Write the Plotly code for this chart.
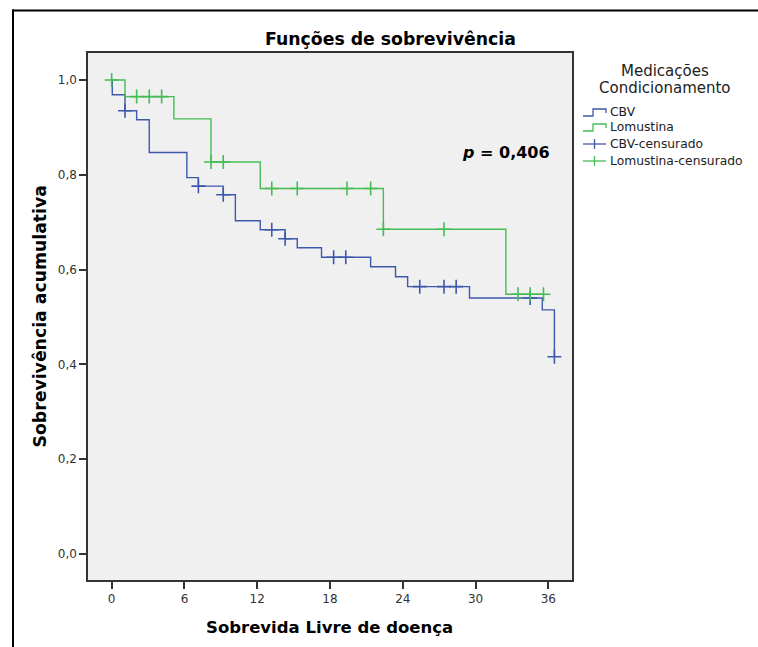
import plotly.graph_objects as go

# ---- data ----
cbv_time = [0, 0.05, 1.1, 2.06, 3.1, 6.2, 7.15, 9.2, 10.2, 12.25, 14.3, 15.3, 17.3, 21.35, 23.4, 24.4, 29.5, 35.5, 36.5]
cbv_surv = [1.0, 0.969, 0.935, 0.916, 0.847, 0.794, 0.776, 0.758, 0.703, 0.684, 0.665, 0.646, 0.626, 0.606, 0.585, 0.564, 0.540, 0.515, 0.416]
cbv_cens_time = [1.1, 7.15, 9.2, 13.2, 14.3, 18.3, 19.3, 25.4, 27.4, 28.4, 34.5, 36.5]
cbv_cens_surv = [0.935, 0.776, 0.758, 0.684, 0.665, 0.626, 0.626, 0.564, 0.564, 0.564, 0.540, 0.416]

lom_time = [0, 1.1, 5.13, 8.19, 12.25, 22.4, 32.5, 35.6]
lom_surv = [1.0, 0.965, 0.918, 0.827, 0.771, 0.685, 0.548, 0.548]
lom_cens_time = [0, 2.06, 3.1, 4.12, 8.19, 9.2, 13.2, 15.3, 19.4, 21.35, 22.4, 27.4, 33.5, 34.5, 35.6]
lom_cens_surv = [1.0, 0.965, 0.965, 0.965, 0.827, 0.827, 0.771, 0.771, 0.771, 0.771, 0.685, 0.685, 0.548, 0.548, 0.548]

x_ticks = [0, 6, 12, 18, 24, 30, 36]
y_ticks = [0.0, 0.2, 0.4, 0.6, 0.8, 1.0]
y_tick_labels = ["0,0", "0,2", "0,4", "0,6", "0,8", "1,0"]
legend_names = ["CBV", "Lomustina", "CBV-censurado", "Lomustina-censurado"]

BLUE = "#3E58AC"
GREEN = "#45BD55"
FONT = "DejaVu Sans"
OFF = 0  # page offset (body margin removed)
W, H = 758, 647
L, T = 88, 53
PW, PH = 484, 527
R, B = W - L - PW, H - T - PH


def px(x):  # page pixel x -> paper
    return (x - OFF - L) / PW


def py(y):  # page pixel y -> paper
    return (H - B - (y - OFF)) / PH


fig = go.Figure()
fig.add_trace(go.Scatter(x=cbv_time, y=cbv_surv, mode="lines", line=dict(color=BLUE, width=1.4, shape="hv"),
                         name=legend_names[0], showlegend=False))
fig.add_trace(go.Scatter(x=lom_time, y=lom_surv, mode="lines", line=dict(color=GREEN, width=1.4, shape="hv"),
                         name=legend_names[1], showlegend=False))
fig.add_trace(go.Scatter(x=cbv_cens_time, y=cbv_cens_surv, mode="markers",
                         marker=dict(symbol="cross-thin", size=10, line=dict(color=BLUE, width=1.6)),
                         name=legend_names[2], showlegend=False))
fig.add_trace(go.Scatter(x=lom_cens_time, y=lom_cens_surv, mode="markers",
                         marker=dict(symbol="cross-thin", size=10, line=dict(color=GREEN, width=1.6)),
                         name=legend_names[3], showlegend=False))

shapes = []
# outer frame (top and left edges visible)
shapes.append(dict(type="line", xref="paper", yref="paper", x0=px(12), x1=px(770), y0=py(10.5), y1=py(10.5),
                   line=dict(color="black", width=2)))
shapes.append(dict(type="line", xref="paper", yref="paper", x0=px(13), x1=px(13), y0=py(9.5), y1=py(670),
                   line=dict(color="black", width=2)))

# manual legend glyphs
leg_rows = [112, 127, 144, 161]
for i, yc in enumerate(leg_rows[:2]):
    col = BLUE if i == 0 else GREEN
    path = "M {},{} L {},{} L {},{} L {},{} L {},{}".format(
        px(583), py(yc + 4), px(593), py(yc + 4), px(593), py(yc - 3), px(606), py(yc - 3), px(606), py(yc + 1))
    shapes.append(dict(type="path", xref="paper", yref="paper", path=path, line=dict(color=col, width=1.3)))
for i, yc in enumerate(leg_rows[2:]):
    col = BLUE if i == 0 else GREEN
    shapes.append(dict(type="line", xref="paper", yref="paper", x0=px(583), x1=px(606), y0=py(yc), y1=py(yc),
                       line=dict(color=col, width=1.3)))
    shapes.append(dict(type="line", xref="paper", yref="paper", x0=px(594.5), x1=px(594.5), y0=py(yc - 5), y1=py(yc + 5),
                       line=dict(color=col, width=1.3)))

annotations = []
for name, yc in zip(legend_names, leg_rows):
    annotations.append(dict(text=name, xref="paper", yref="paper", x=px(608), y=py(yc), xanchor="left", yanchor="middle",
                            showarrow=False, font=dict(family=FONT, size=12.3, color="#222")))
for txt, yc in [("Medicações", 71), ("Condicionamento", 88)]:
    annotations.append(dict(text=txt, xref="paper", yref="paper", x=px(665), y=py(yc),
                            xanchor="center", yanchor="middle", showarrow=False,
                            font=dict(family=FONT, size=15, color="#222")))
annotations.append(dict(text="<i>p</i> = 0,406", xref="paper", yref="paper", x=px(505.5), y=py(153),
                        xanchor="center", yanchor="middle", showarrow=False,
                        font=dict(family=FONT, size=16, color="black", weight="bold")))
annotations.append(dict(text="Funções de sobrevivência", xref="paper", yref="paper", x=px(390), y=py(39.5),
                        xanchor="center", yanchor="middle", showarrow=False,
                        font=dict(family=FONT, size=17.3, color="black", weight="bold")))
annotations.append(dict(text="Sobrevida Livre de doença", xref="paper", yref="paper", x=px(329.5), y=py(627),
                        xanchor="center", yanchor="middle", showarrow=False,
                        font=dict(family=FONT, size=16.5, color="black", weight="bold")))
annotations.append(dict(text="Sobrevivência acumulativa", xref="paper", yref="paper", x=px(39), y=py(316.5),
                        xanchor="center", yanchor="middle", showarrow=False, textangle=-90,
                        font=dict(family=FONT, size=17.3, color="black", weight="bold")))

fig.update_layout(
    width=W, height=H,
    margin=dict(l=L, r=R, t=T, b=B),
    paper_bgcolor="white",
    plot_bgcolor="#F0F0F0",
    showlegend=False,
    shapes=shapes,
    annotations=annotations,
)
fig.update_xaxes(range=[-1.95, 37.95], tickvals=x_ticks, ticktext=[str(v) for v in x_ticks],
                 showgrid=False, zeroline=False, showline=True, mirror=True, linecolor="#333", linewidth=1.5,
                 ticks="outside", ticklen=7, tickwidth=1.5, tickcolor="#333",
                 tickfont=dict(family=FONT, size=12, color="#333"))
fig.update_yaxes(range=[-0.055, 1.057], tickvals=y_ticks, ticktext=y_tick_labels,
                 showgrid=False, zeroline=False, showline=True, mirror=True, linecolor="#333", linewidth=1.5,
                 ticks="outside", ticklen=7, tickwidth=1.5, tickcolor="#333",
                 tickfont=dict(family=FONT, size=12, color="#333"))

fig.write_html("out.html", config={"displayModeBar": False},
               post_script="document.body.style.margin='0';document.documentElement.style.overflow='hidden';")
